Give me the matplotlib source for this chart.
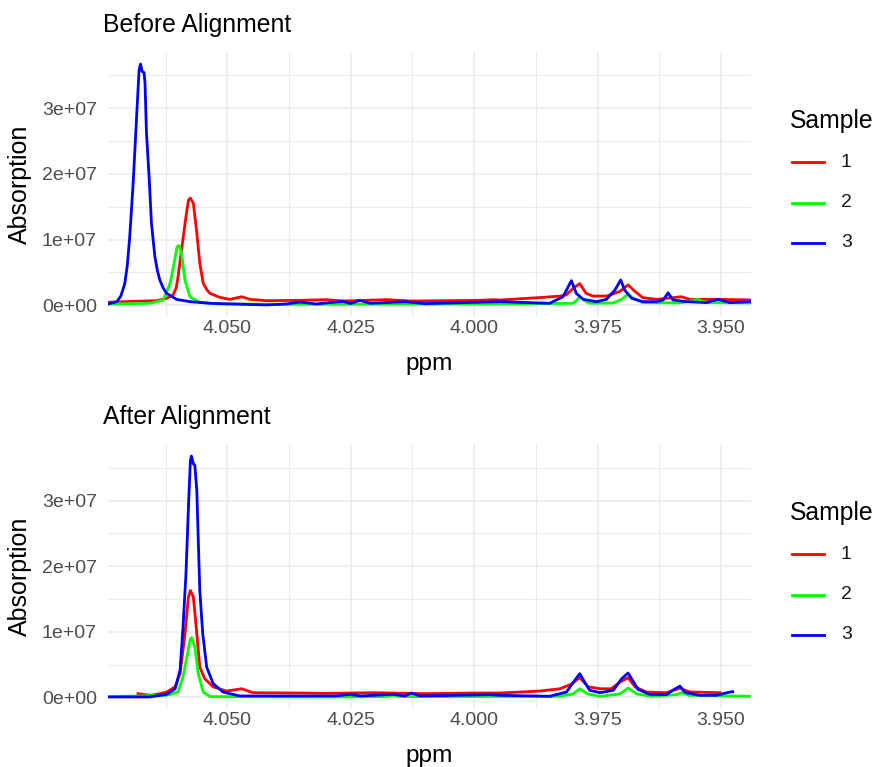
import matplotlib
matplotlib.use("Agg")
import matplotlib.pyplot as plt
from matplotlib.lines import Line2D
from matplotlib.ticker import FixedLocator

plt.rcParams['font.family'] = ['Liberation Sans', 'DejaVu Sans']

# ---------------- data (intensity in units of 1e6) ----------------
samples = ["1", "2", "3"]
colors = ["#FF0000", "#00FF00", "#0000FF"]
x_ticks = [4.050, 4.025, 4.000, 3.975, 3.950]
x_tick_labels = ["4.050", "4.025", "4.000", "3.975", "3.950"]
y_ticks = [0, 1e7, 2e7, 3e7]
y_tick_labels = ["0e+00", "1e+07", "2e+07", "3e+07"]
unit = 1e6

# Before alignment
before_ppm_1 = [4.0742, 4.0691, 4.0643, 4.0623, 4.0610, 4.0604, 4.0600, 4.0593, 4.0584, 4.0579,
                4.0575, 4.0569, 4.0562, 4.0556, 4.0549, 4.0542, 4.0535, 4.0515, 4.0495, 4.0471,
                4.0454, 4.0421, 4.0353, 4.0298, 4.0266, 4.0177, 4.0127, 3.9992, 3.9962, 3.9948,
                3.9861, 3.9826, 3.9813, 3.9799, 3.9786, 3.9773, 3.9759, 3.9732, 3.9705, 3.9688,
                3.9674, 3.9658, 3.9630, 3.9580, 3.9563, 3.9502, 3.9439]
before_int_1 = [0.45, 0.6, 0.7, 1.07, 1.6, 2.6, 4.35, 8.4, 13.5, 16.0,
                16.3, 15.5, 11.0, 6.4, 3.35, 2.4, 1.8, 1.2, 0.9, 1.3,
                0.9, 0.7, 0.75, 0.85, 0.65, 0.85, 0.65, 0.75, 0.85, 0.8,
                1.2, 1.4, 1.6, 2.6, 3.3, 1.8, 1.4, 1.4, 2.1, 3.1,
                2.1, 1.15, 0.9, 1.3, 0.9, 0.9, 0.8]

before_ppm_2 = [4.0742, 4.0657, 4.0630, 4.0616, 4.0608, 4.0602, 4.0598, 4.0593, 4.0586, 4.0576,
                4.0556, 4.0515, 4.0353, 3.9948, 3.9799, 3.9793, 3.9786, 3.9776, 3.9766, 3.9718,
                3.9701, 3.9688, 3.9674, 3.9658, 3.9583, 3.9547, 3.9529, 3.9439]
before_int_2 = [0.2, 0.3, 0.8, 3.35, 6.4, 8.9, 9.1, 7.9, 3.85, 1.3,
                0.45, 0.2, 0.15, 0.2, 0.3, 0.7, 1.3, 0.7, 0.3, 0.35,
                0.9, 1.7, 0.9, 0.4, 0.35, 0.9, 0.4, 0.35]

before_ppm_3 = [4.0742, 4.0724, 4.0716, 4.0708, 4.0703, 4.0698, 4.0691, 4.0684, 4.0679, 4.0676,
                4.0673, 4.0669, 4.0667, 4.0664, 4.0658, 4.0654, 4.0647, 4.0642, 4.0637, 4.0630,
                4.0623, 4.0603, 4.0576, 4.0535, 4.0489, 4.0421, 4.0380, 4.0353, 4.0320, 4.0266,
                4.0250, 4.0232, 4.0210, 4.0140, 4.0100, 3.9948, 3.9847, 3.9820, 3.9803, 3.9793,
                3.9779, 3.9752, 3.9732, 3.9715, 3.9703, 3.9695, 3.9681, 3.9658, 3.9630, 3.9617,
                3.9607, 3.9597, 3.9570, 3.9529, 3.9506, 3.9482, 3.9439]
before_int_3 = [0.2, 0.55, 1.4, 3.3, 6.0, 10.4, 18.6, 28.7, 35.8, 36.7,
                35.6, 35.4, 33.8, 26.2, 18.6, 12.5, 7.4, 5.3, 3.85, 2.6,
                1.8, 0.9, 0.55, 0.3, 0.2, 0.05, 0.2, 0.5, 0.2, 0.6,
                0.25, 0.75, 0.3, 0.55, 0.25, 0.55, 0.3, 1.3, 3.75, 1.8,
                0.9, 0.55, 0.9, 2.3, 3.85, 2.3, 1.07, 0.55, 0.55, 0.8,
                1.9, 0.8, 0.55, 0.4, 0.9, 0.4, 0.55]

# After alignment
after_ppm_1 = [4.0681, 4.0671, 4.0657, 4.0643, 4.0623, 4.0606, 4.0596, 4.0586, 4.0579, 4.0575,
               4.0569, 4.0562, 4.0556, 4.0546, 4.0529, 4.0502, 4.0471, 4.0448, 4.0353, 4.0300,
               4.0200, 4.0100, 4.0000, 3.9948, 3.9867, 3.9826, 3.9803, 3.9786, 3.9769, 3.9745,
               3.9722, 3.9705, 3.9688, 3.9674, 3.9651, 3.9610, 3.9583, 3.9563, 3.9502]
after_int_1 = [0.55, 0.45, 0.3, 0.45, 0.8, 1.6, 3.6, 9.7, 15.3, 16.3,
               15.3, 9.7, 4.6, 2.85, 1.6, 0.95, 1.3, 0.7, 0.65, 0.6,
               0.7, 0.55, 0.65, 0.65, 0.95, 1.3, 2.0, 3.0, 1.6, 1.3,
               1.3, 2.3, 3.0, 1.6, 0.8, 0.7, 1.4, 0.8, 0.7]

after_ppm_2 = [4.0742, 4.0623, 4.0600, 4.0590, 4.0581, 4.0575, 4.0572, 4.0566, 4.0559, 4.0549,
               4.0535, 4.0300, 4.0180, 4.0165, 4.0150, 3.9826, 3.9800, 3.9786, 3.9770, 3.9745,
               3.9705, 3.9688, 3.9670, 3.9640, 3.9590, 3.9580, 3.9565, 3.9439]
after_int_2 = [0.1, 0.3, 0.8, 3.1, 6.6, 8.9, 9.1, 7.7, 3.6, 0.8,
               0.1, 0.05, 0.1, 0.3, 0.1, 0.15, 0.5, 1.3, 0.5, 0.15,
               0.5, 1.4, 0.5, 0.15, 0.4, 0.7, 0.3, 0.15]

after_ppm_3 = [4.0742, 4.0657, 4.0623, 4.0606, 4.0596, 4.0590, 4.0584, 4.0579, 4.0575, 4.0573,
               4.0569, 4.0566, 4.0562, 4.0559, 4.0556, 4.0550, 4.0542, 4.0529, 4.0509, 4.0475,
               4.0353, 4.0280, 4.0252, 4.0230, 4.0165, 4.0140, 4.0127, 4.0110, 3.9968, 3.9948,
               3.9847, 3.9813, 3.9799, 3.9786, 3.9776, 3.9766, 3.9745, 3.9718, 3.9701, 3.9688,
               3.9681, 3.9668, 3.9644, 3.9610, 3.9597, 3.9583, 3.9573, 3.9543, 3.9509, 3.9482,
               3.9476]
after_int_3 = [0.05, 0.05, 0.45, 1.3, 4.1, 10.7, 18.8, 29.0, 36.1, 36.8,
               35.6, 35.4, 31.5, 23.9, 16.3, 9.7, 4.6, 2.1, 0.8, 0.2,
               0.2, 0.2, 0.45, 0.2, 0.45, 0.2, 0.65, 0.2, 0.4, 0.3,
               0.15, 0.8, 2.3, 3.6, 2.3, 1.07, 0.7, 1.07, 2.85, 3.7,
               2.85, 1.2, 0.45, 0.4, 1.1, 1.7, 0.75, 0.3, 0.3, 0.8,
               0.85]

x_limits = (4.0742, 3.9439)

# ---------------- figure ----------------
W, H = 875, 767
fig = plt.figure(figsize=(W / 100, H / 100), dpi=100)
fig.patch.set_facecolor("white")

panels = [
    dict(title="Before Alignment", top=52,
         ppm=[before_ppm_1, before_ppm_2, before_ppm_3],
         ints=[before_int_1, before_int_2, before_int_3]),
    dict(title="After Alignment", top=444,
         ppm=[after_ppm_1, after_ppm_2, after_ppm_3],
         ints=[after_int_1, after_int_2, after_int_3]),
]

left_px, right_px, height_px = 108, 751, 265
grid_col = "#EBEBEB"
line_w = 2.0

for p in panels:
    top = p["top"]
    ax = fig.add_axes([left_px / W, 1 - (top + height_px) / H,
                       (right_px - left_px) / W, height_px / H])
    for xs, ys, c in zip(p["ppm"], p["ints"], colors):
        ax.plot(xs, [v * unit for v in ys], color=c, lw=line_w, solid_joinstyle="round", zorder=3)
    ax.set_xlim(*x_limits)
    ax.margins(y=0.05)
    ax.set_xticks(x_ticks)
    ax.set_xticklabels(x_tick_labels)
    ax.set_yticks(y_ticks)
    ax.set_yticklabels(y_tick_labels)
    ax.xaxis.set_minor_locator(FixedLocator([4.0625, 4.0375, 4.0125, 3.9875, 3.9625]))
    ax.yaxis.set_minor_locator(FixedLocator([5e6, 1.5e7, 2.5e7, 3.5e7]))
    ax.grid(which="major", color=grid_col, lw=1.1, zorder=0)
    ax.grid(which="minor", color=grid_col, lw=0.8, zorder=0)
    ax.set_axisbelow(True)
    for s in ax.spines.values():
        s.set_visible(False)
    ax.tick_params(which="both", length=0, labelsize=14, labelcolor="#4D4D4D")
    ax.tick_params(axis="x", pad=2)
    ax.tick_params(axis="y", pad=8)

    # titles and axis titles
    fig.text(103 / W, 1 - (top - 20.3) / H, p["title"], fontsize=17.8, va="baseline", ha="left")
    fig.text((left_px + right_px) / 2 / W, 1 - (top + 318) / H, "ppm", fontsize=17.6,
             va="baseline", ha="center")
    fig.text(20 / W, 1 - (top + height_px / 2) / H, "Absorption", fontsize=18,
             rotation=90, va="center", ha="center")

    # legend
    fig.text(790 / W, 1 - (top + 76.3) / H, "Sample", fontsize=17.8, va="baseline", ha="left")
    for i, (lab, c) in enumerate(zip(samples, colors)):
        yk = top + 110.3 + i * 40.2
        fig.add_artist(Line2D([792 / W, 824 / W], [1 - yk / H, 1 - yk / H],
                              transform=fig.transFigure, color=c, lw=line_w))
        fig.text(841 / W, 1 - yk / H, lab, fontsize=14, va="center", ha="left",
                 color="#1A1A1A")

fig.savefig("out.png", dpi=100, facecolor="white")
